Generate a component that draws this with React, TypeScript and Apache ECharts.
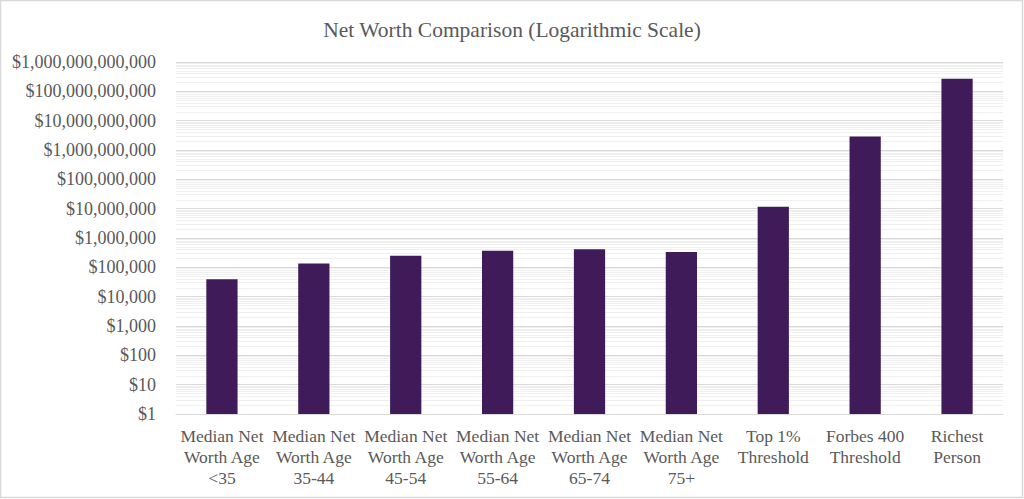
import React, { useEffect, useRef } from "react";
import * as echarts from "echarts";

const categories = [
  "Median Net\nWorth Age\n<35",
  "Median Net\nWorth Age\n35-44",
  "Median Net\nWorth Age\n45-54",
  "Median Net\nWorth Age\n55-64",
  "Median Net\nWorth Age\n65-74",
  "Median Net\nWorth Age\n75+",
  "Top 1%\nThreshold",
  "Forbes 400\nThreshold",
  "Richest\nPerson",
];

const netWorth = [
  39000, 135600, 247200, 364500, 409900, 335600, 11600000, 2900000000, 270000000000,
];

const titleText = "Net Worth Comparison (Logarithmic Scale)";
const yMin = 1;
const yMax = 1000000000000;
const decades = [0, 1, 2, 3, 4, 5, 6, 7, 8, 9, 10, 11];
const minorMultipliers = [2, 3, 4, 5, 6, 7, 8, 9];

const FONT = '"Liberation Serif", "Times New Roman", serif';

export default function App() {
  const ref = useRef<HTMLDivElement>(null);
  useEffect(() => {
    document.body.style.margin = "0";
    const chart = echarts.init(ref.current!, null, { renderer: "svg" });
    const minorLines: any[] = [];
    decades.forEach((d) => {
      minorMultipliers.forEach((m) => {
        minorLines.push({ yAxis: m * Math.pow(10, d) });
      });
    });
    chart.setOption({
      animation: false,
      backgroundColor: "#ffffff",
      title: {
        text: titleText,
        left: "center",
        top: 14,
        textStyle: { fontFamily: FONT, fontSize: 21.5, fontWeight: "normal", color: "#595959" },
      },
      grid: { left: 176, right: 21, top: 62, bottom: 85 },
      xAxis: {
        type: "category",
        data: categories,
        axisTick: { show: false },
        axisLine: { lineStyle: { color: "#d9d9d9", width: 1 } },
        axisLabel: {
          interval: 0,
          margin: 11,
          fontFamily: FONT,
          fontSize: 17.5,
          lineHeight: 21,
          color: "#595959",
        },
      },
      yAxis: {
        type: "log",
        logBase: 10,
        min: yMin,
        max: yMax,
        interval: 1,
        axisLine: { show: false },
        axisTick: { show: false },
        axisLabel: {
          margin: 20,
          fontFamily: FONT,
          fontSize: 18,
          color: "#595959",
          formatter: (v: number) => "$" + Math.round(v).toLocaleString("en-US"),
        },
        splitLine: { lineStyle: { color: "#d9d9d9", width: 1 } },
      },
      series: [
        {
          type: "line",
          data: [],
          z: 1,
          silent: true,
          markLine: {
            z: 1,
            zlevel: 0,
            silent: true,
            symbol: "none",
            label: { show: false },
            animation: false,
            lineStyle: { type: "solid", color: "#efefef", width: 1 },
            data: minorLines,
          },
        },
        {
          type: "bar",
          data: netWorth,
          z: 3,
          barCategoryGap: "66%",
          itemStyle: { color: "#3f1b59" },
        },
      ],
      graphic: [
        {
          type: "rect",
          shape: { x: 0.5, y: 0.5, width: 1022, height: 497 },
          style: { fill: "none", stroke: "#d9d9d9", lineWidth: 1.5 },
          silent: true,
        },
      ],
    });
    return () => chart.dispose();
  }, []);
  return (
    <div
      ref={ref}
      style={{ position: "absolute", left: 0, top: 0, width: 1024, height: 499 }}
    />
  );
}
